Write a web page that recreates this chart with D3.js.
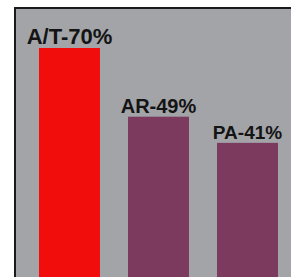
<!DOCTYPE html>
<html><head><meta charset="utf-8">
<script src="https://cdn.jsdelivr.net/npm/d3@7"></script>
<style>html,body{margin:0;padding:0;background:#fff;}svg{display:block;}</style>
</head><body>
<script>
const categories = ["A/T", "AR", "PA"];
const values = [70, 49, 41];
const labels = ["A/T-70%", "AR-49%", "PA-41%"];
const colors = ["#f20d0d", "#7c3a5e", "#7c3a5e"];
const fontSizes = [22, 20, 19];

const W = 291, H = 279;
const svg = d3.select("body").append("svg").attr("width", W).attr("height", H);

const panel = {x0: 14, y0: 7, x1: 291, y1: 277};
svg.append("rect").attr("x", panel.x0).attr("y", panel.y0)
  .attr("width", panel.x1 - panel.x0).attr("height", panel.y1 - panel.y0)
  .attr("fill", "#a2a4a8");
svg.append("path")
  .attr("d", `M${panel.x0 + 1},${panel.y1} V${panel.y0 + 1} H${panel.x1}`)
  .attr("fill", "none").attr("stroke", "#1a1a1a").attr("stroke-width", 2);

const x = d3.scaleBand().domain(categories).range([39, 278]).paddingInner(0.315).paddingOuter(0);
const y = d3.scaleLinear().domain([0, 70]).range([panel.y1, 48]);

svg.selectAll("rect.bar").data(categories).join("rect").attr("class", "bar")
  .attr("x", d => x(d)).attr("width", x.bandwidth())
  .attr("y", (d, i) => y(values[i])).attr("height", (d, i) => panel.y1 - y(values[i]))
  .attr("fill", (d, i) => colors[i]);

svg.selectAll("text.lbl").data(categories).join("text").attr("class", "lbl")
  .attr("x", d => x(d) + x.bandwidth() / 2)
  .attr("y", (d, i) => y(values[i]) - 4)
  .attr("text-anchor", "middle")
  .attr("font-family", "Liberation Sans, Arial, sans-serif")
  .attr("font-weight", "bold")
  .attr("font-size", (d, i) => fontSizes[i])
  .attr("fill", "#141414")
  .text((d, i) => labels[i]);
</script>
</body></html>
